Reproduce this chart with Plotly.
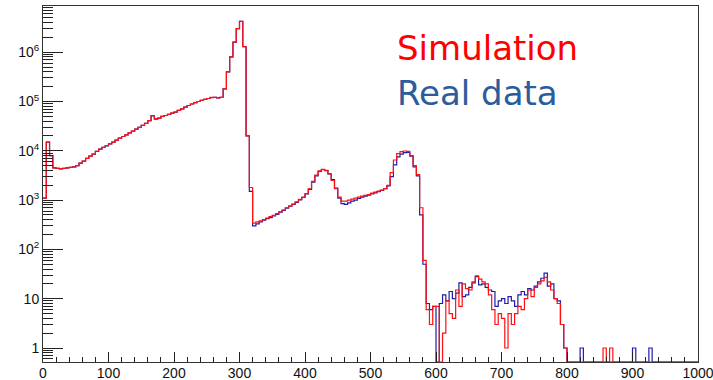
import numpy as np
import plotly.graph_objects as go

# Histogram binning: 200 bins of width 5 over [0, 1000)
bin_width = 5
bin_edges = list(range(0, 1001, bin_width))

# Simulated spectrum, counts per bin (rows of 10 bins = 50 units)
sim_counts = [
    1100, 15000, 8000, 4500, 4400, 4300, 4400, 4500, 4600, 4700,            # 0-45
    5000, 5600, 6200, 7000, 7800, 8600, 9800, 10800, 11800, 12800,         # 50-95
    13800, 15000, 16500, 18000, 19500, 21000, 23000, 25000, 27500, 30000,  # 100-145
    33000, 36000, 41000, 52000, 45000, 46000, 50000, 52000, 55000, 58000,  # 150-195
    61000, 66000, 71000, 77000, 83000, 89000, 95000, 100000, 105000, 110000,  # 200-245
    115000, 121000, 122000, 118000, 122000, 180000, 400000, 800000, 1600000, 3000000,  # 250-295
    4200000, 1300000, 20000, 1800, 340, 360, 380, 400, 430, 460,           # 300-345
    490, 530, 580, 630, 700, 760, 830, 920, 1030, 1150,                    # 350-395
    1350, 1700, 2400, 3200, 3900, 4200, 4000, 3400, 2500, 1700,            # 400-445
    1150, 950, 950, 1000, 1050, 1100, 1150, 1200, 1250, 1300,              # 450-495
    1380, 1450, 1520, 1600, 1700, 2000, 3600, 6500, 8800, 9600,            # 500-545
    9900, 9700, 8000, 5000, 3300, 700, 60, 6, 3, 7,                        # 550-595
    7, 0, 2, 9, 5, 4, 15, 7, 20, 16,                                       # 600-645
    15, 22, 29, 25, 22, 20, 12, 6, 3, 5,                                   # 650-695
    4, 1, 5, 3, 5, 7, 6, 10, 15, 11,                                       # 700-745
    17, 20, 23, 27, 22, 15, 10, 8, 3, 1,                                   # 750-795
    0, 0, 0, 0, 0, 0, 0, 0, 0, 0,                                          # 800-845
    0, 1, 0, 1, 0, 0, 0, 0, 0, 0,                                          # 850-895
    0, 0, 0, 0, 0, 0, 0, 0, 0, 0,                                          # 900-945
    0, 0, 0, 0, 0, 0, 0, 0, 0, 0,                                          # 950-995
]

# Measured spectrum, counts per bin
data_counts = [
    1100, 15000, 8000, 4500, 4400, 4300, 4400, 4500, 4600, 4700,            # 0-45
    5000, 5600, 6200, 7000, 7800, 8600, 9700, 10800, 11800, 12600,         # 50-95
    13800, 15000, 16500, 18000, 19500, 21000, 23000, 25000, 27500, 30000,  # 100-145
    33000, 36000, 41000, 51000, 44000, 46000, 50000, 52000, 55000, 58000,  # 150-195
    61000, 66000, 71000, 77000, 83000, 89000, 95000, 100000, 105000, 110000,  # 200-245
    115000, 119000, 122000, 118000, 122000, 180000, 400000, 800000, 1600000, 3000000,  # 250-295
    4200000, 1300000, 20000, 1500, 300, 330, 360, 390, 420, 440,           # 300-345
    480, 510, 570, 620, 690, 750, 820, 900, 1010, 1130,                    # 350-395
    1330, 1650, 2300, 3100, 3800, 4150, 3950, 3400, 2600, 1750,            # 400-445
    1100, 850, 820, 880, 950, 1000, 1080, 1150, 1200, 1260,                # 450-495
    1330, 1400, 1480, 1580, 1700, 1950, 3000, 5200, 7500, 8600,            # 500-545
    9200, 9300, 7800, 4700, 3100, 500, 50, 8, 6, 7,                        # 550-595
    0, 8, 12, 9, 14, 10, 13, 21, 11, 12,                                   # 600-645
    17, 21, 28, 19, 20, 17, 15, 14, 7, 9,                                  # 650-695
    10, 8, 11, 9, 7, 12, 14, 12, 16, 15,                                   # 700-745
    18, 22, 26, 33, 18, 20, 10, 9, 3, 1,                                   # 750-795
    0, 0, 0, 0, 1, 0, 0, 0, 0, 0,                                          # 800-845
    0, 0, 0, 0, 0, 0, 0, 0, 0, 0,                                          # 850-895
    1, 0, 0, 0, 0, 1, 0, 0, 0, 0,                                          # 900-945
    0, 0, 0, 0, 0, 0, 0, 0, 0, 0,                                          # 950-995
]

y_tick_vals = [1, 10, 100, 1000, 10000, 100000, 1000000]
y_tick_text = ["1", "10", "10<sup>2</sup>", "10<sup>3</sup>",
               "10<sup>4</sup>", "10<sup>5</sup>", "10<sup>6</sup>"]
x_tick_vals = list(range(0, 1001, 100))

# Log-axis range (decades)
y_log_range = [-0.284, 6.937]
y_floor = 10 ** y_log_range[0]


def step_outline(counts):
    """Histogram outline: empty bins are drawn along the bottom of the frame."""
    vals = [c if c > 0 else y_floor for c in counts]
    xs = bin_edges
    ys = vals + [vals[-1]]
    return xs, ys


fig = go.Figure()

for counts, colour in ((data_counts, "#1e1ea8"), (sim_counts, "#ff1010")):
    xs, ys = step_outline(counts)
    fig.add_trace(go.Scatter(
        x=xs, y=ys, mode="lines", line_shape="hv",
        line=dict(color=colour, width=1.2),
        hoverinfo="skip", showlegend=False,
    ))

# Minor ticks of the log axis: 2..9 within every decade
y_minor_vals = [m * 10.0 ** e for e in range(-1, 7) for m in range(2, 10)]
y_minor_vals = [v for v in y_minor_vals
                if y_log_range[0] <= np.log10(v) <= y_log_range[1]]

tick_font = dict(family="Liberation Sans, Arial, sans-serif", size=14, color="#111111")

fig.update_layout(
    width=713, height=380,
    margin=dict(l=43, r=15, t=6, b=18),
    paper_bgcolor="white", plot_bgcolor="white",
    xaxis=dict(
        range=[0, 1000], showgrid=False, zeroline=False, automargin=False,
        showline=True, linecolor="#333333", linewidth=1, mirror=True,
        tickmode="array", tickvals=x_tick_vals,
        ticks="inside", ticklen=10, tickwidth=1, tickcolor="#222222",
        minor=dict(ticks="inside", ticklen=5, tickwidth=1, tickcolor="#222222",
                   dtick=20, tick0=0, showgrid=False),
        tickfont=tick_font, ticklabeloverflow="allow", ticklabelstandoff=-2,
    ),
    yaxis=dict(
        type="log", range=y_log_range, showgrid=False, zeroline=False,
        automargin=False,
        showline=True, linecolor="#333333", linewidth=1, mirror=True,
        tickmode="array", tickvals=y_tick_vals, ticktext=y_tick_text,
        ticks="inside", ticklen=20, tickwidth=1, tickcolor="#222222",
        minor=dict(ticks="inside", ticklen=10, tickwidth=1, tickcolor="#222222",
                   tickmode="array", tickvals=y_minor_vals, showgrid=False),
        tickfont=tick_font,
    ),
    annotations=[
        dict(text="Simulation", xref="paper", yref="paper", x=0.538, y=0.882,
             xanchor="left", yanchor="middle", showarrow=False,
             font=dict(family="DejaVu Sans", size=34, color="#ff0000")),
        dict(text="Real data", xref="paper", yref="paper", x=0.538, y=0.757,
             xanchor="left", yanchor="middle", showarrow=False,
             font=dict(family="DejaVu Sans", size=34, color="#2c5c9c")),
    ],
)

fig.write_html("out.html")
